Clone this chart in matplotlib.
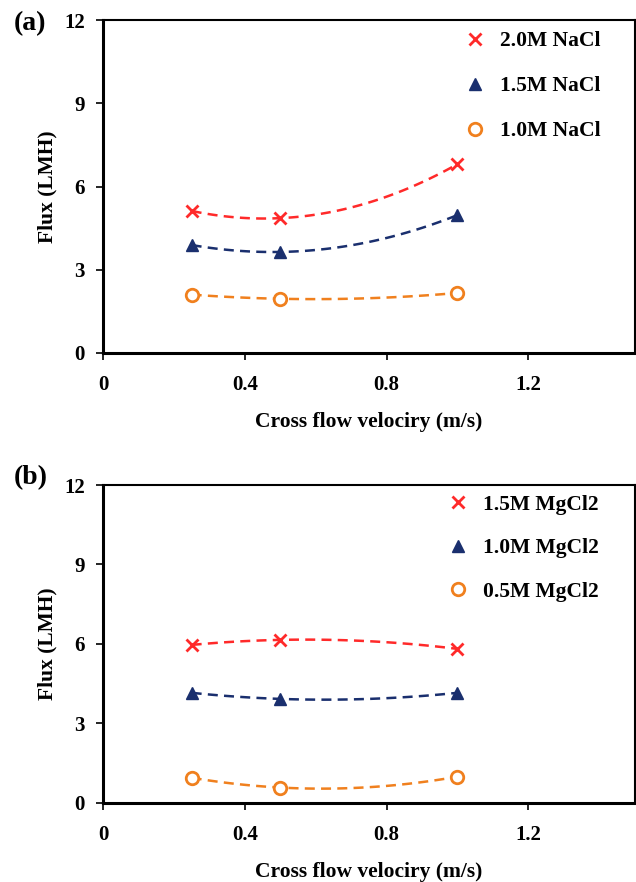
import numpy as np
import matplotlib
matplotlib.use("Agg")
import matplotlib.pyplot as plt

plt.rcParams['font.family'] = ['Liberation Serif', 'DejaVu Serif']
plt.rcParams['font.weight'] = 'bold'

velocity = [0.25, 0.5, 1.0]

# panel (a) NaCl
labels_a = ['2.0M NaCl', '1.5M NaCl', '1.0M NaCl']
flux_a = [
    [5.12, 4.86, 6.81],
    [3.89, 3.64, 4.97],
    [2.10, 1.95, 2.16],
]

# panel (b) MgCl2
labels_b = ['1.5M MgCl2', '1.0M MgCl2', '0.5M MgCl2']
flux_b = [
    [5.96, 6.15, 5.81],
    [4.15, 3.92, 4.15],
    [0.94, 0.57, 0.98],
]

colors = ['#FF2A2A', '#1A2F6E', '#F0801E']
markers = ['x', '^', 'o']


def draw_panel(ax, labels, flux, leg_x, leg_y, spacing):
    xs = np.linspace(velocity[0], velocity[-1], 100)
    for i in range(3):
        # second order trend line through the points
        coef = np.polyfit(velocity, flux[i], 2)
        ax.plot(xs, np.polyval(coef, xs), '--', color=colors[i], lw=1.8,
                dashes=(4, 2.5))
        if markers[i] == 'o':
            ax.plot(velocity, flux[i], 'o', mfc='white', mec=colors[i],
                    mew=2, ms=9, label=labels[i], ls='none')
        elif markers[i] == 'x':
            ax.plot(velocity, flux[i], 'x', color=colors[i], mew=2, ms=9,
                    label=labels[i], ls='none')
        else:
            ax.plot(velocity, flux[i], '^', color=colors[i], ms=9,
                    label=labels[i], ls='none')
    ax.set_xlim(0, 1.5)
    ax.set_ylim(0, 12)
    ax.set_xticks([0, 0.4, 0.8, 1.2])
    ax.set_xticklabels(['0', '0.4', '0.8', '1.2'])
    ax.set_yticks([0, 3, 6, 9, 12])
    ax.tick_params(labelsize=15, direction='out', length=5, width=1.2, pad=8)
    ax.tick_params(axis='x', pad=11)
    ax.spines['left'].set_linewidth(2.2)
    ax.spines['bottom'].set_linewidth(2.2)
    ax.spines['top'].set_linewidth(1.5)
    ax.spines['right'].set_linewidth(1.5)
    ax.set_xlabel('Cross flow velociry (m/s)', fontsize=15.5, fontweight='bold',
                  labelpad=12)
    ax.set_ylabel('Flux (LMH)', fontsize=15.5, fontweight='bold', labelpad=5)
    ax.legend(loc='upper left', bbox_to_anchor=(leg_x, leg_y), frameon=False,
              labelspacing=spacing, handletextpad=0.6, handlelength=1.2,
              prop={'weight': 'bold', 'size': 15.5})


fig = plt.figure(figsize=(6.36, 8.82), dpi=100)
ax1 = fig.add_axes([0.162, 0.600, 0.836, 0.377])
ax2 = fig.add_axes([0.162, 0.090, 0.836, 0.360])

draw_panel(ax1, labels_a, flux_a, 0.638, 1.025, 1.15)
draw_panel(ax2, labels_b, flux_b, 0.606, 1.03, 1.08)

fig.text(14 / 636, 1 - 24 / 882, '(a)', fontsize=20, fontweight='bold',
         ha='left', va='center')
fig.text(14 / 636, 1 - 478 / 882, '(b)', fontsize=20, fontweight='bold',
         ha='left', va='center')

fig.savefig('out.png', dpi=100)
